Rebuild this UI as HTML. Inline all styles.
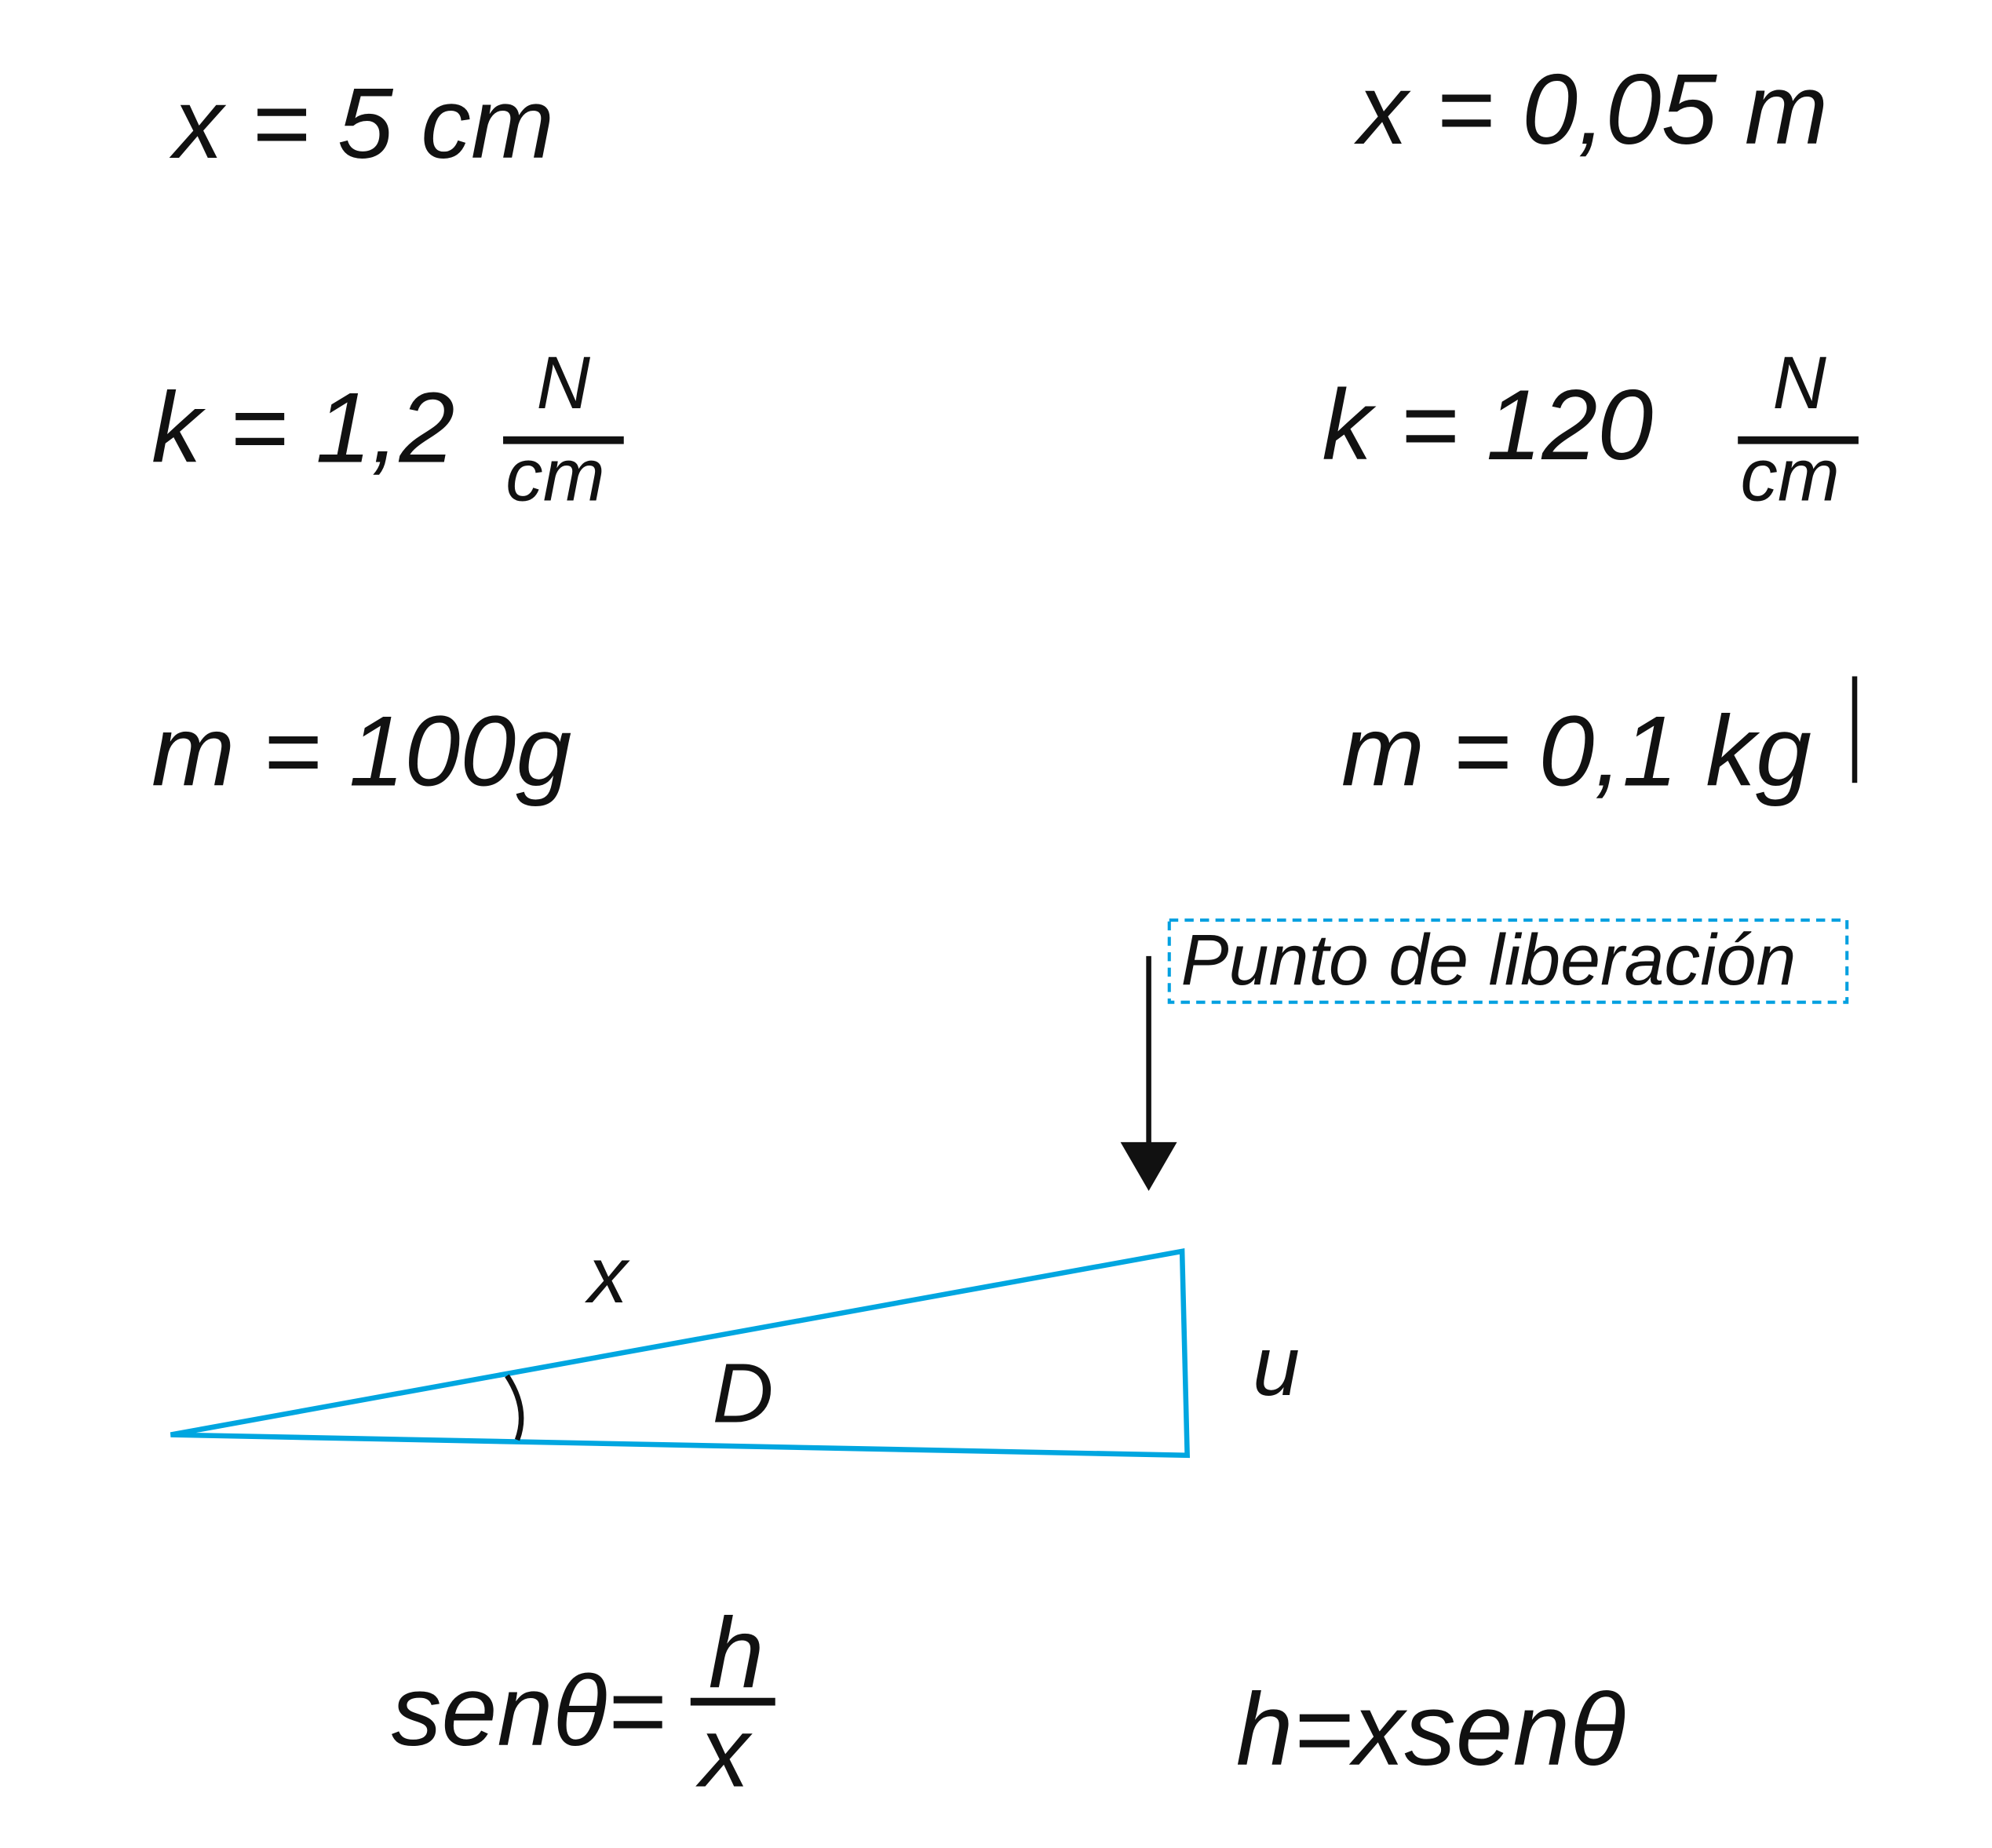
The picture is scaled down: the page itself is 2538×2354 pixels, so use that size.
<!DOCTYPE html>
<html><head><meta charset="utf-8"><style>
html,body{margin:0;padding:0;background:#fff}
svg{display:block}
text{font-family:"Liberation Sans",Arial,sans-serif;font-style:italic;fill:#111}
</style></head><body>
<svg width="2538" height="2354" viewBox="0 0 1552 1440" preserveAspectRatio="none" xmlns="http://www.w3.org/2000/svg">
<rect width="1552" height="1440" fill="#fff"/>
<text x="135" y="123" font-size="78">x = 5 cm</text>
<text x="1058" y="112" font-size="78">x = 0,05 m</text>
<text x="118" y="360" font-size="78">k = 1,2</text>
<text x="418" y="318" font-size="58">N</text>
<rect x="392" y="340" width="94" height="6" fill="#111"/>
<text x="394" y="390" font-size="58">cm</text>
<text x="1030" y="358" font-size="78">k = 120</text>
<text x="1381" y="318" font-size="58">N</text>
<rect x="1354" y="340" width="94" height="6" fill="#111"/>
<text x="1356" y="390" font-size="58">cm</text>
<text x="118" y="612" font-size="78">m = 100g</text>
<text x="1045" y="612" font-size="78">m = 0,1 kg</text>
<rect x="1443" y="527" width="4" height="83" fill="#111"/>
<rect x="911" y="717" width="528" height="64" fill="none" stroke="#00a0e0" stroke-width="2.5" stroke-dasharray="7,5"/>
<text x="920" y="767" font-size="56">Punto de liberación</text>
<line x1="895" y1="745" x2="895" y2="895" stroke="#111" stroke-width="4"/>
<polygon points="873,890 917,890 895,928" fill="#111"/>
<polygon points="133,1118 921,975 925,1134" fill="none" stroke="#00a6e0" stroke-width="4"/>
<path d="M395,1072 Q412,1098 403,1122" fill="none" stroke="#111" stroke-width="4"/>
<text x="458" y="1015" font-size="62">x</text>
<text x="555" y="1108" font-size="66">D</text>
<text x="976" y="1087" font-size="66">u</text>
<text x="305" y="1360" font-size="78">senθ=</text>
<text x="552" y="1315" font-size="78">h</text>
<rect x="538" y="1323" width="66" height="6" fill="#111"/>
<text x="545" y="1392" font-size="78">x</text>
<text x="963" y="1375" font-size="80">h=xsenθ</text>
</svg>
</body></html>
